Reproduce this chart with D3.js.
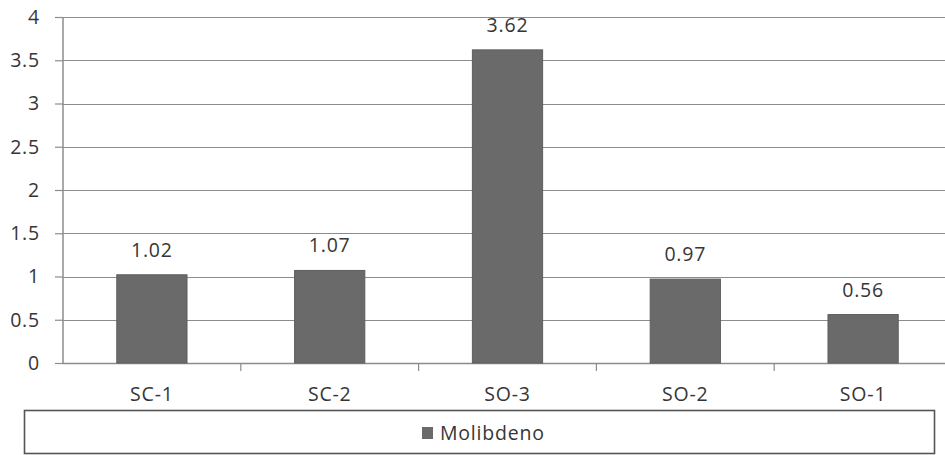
<!DOCTYPE html>
<html>
<head>
<meta charset="utf-8">
<script src="https://cdn.jsdelivr.net/npm/d3@7"></script>
<style>
  html, body { margin: 0; padding: 0; background: #fff; }
  svg { display: block; }
  text { font-family: "Open Sans", "DejaVu Sans", sans-serif; fill: #363636; letter-spacing: 0.8px; }
</style>
</head>
<body>
<svg id="chart" width="945" height="455"></svg>
<script>
// Molybdenum values per sample point
const categories = ["SC-1", "SC-2", "SO-3", "SO-2", "SO-1"];
const values = [1.02, 1.07, 3.62, 0.97, 0.56];
const valueLabels = ["1.02", "1.07", "3.62", "0.97", "0.56"];
const yTicks = [0, 0.5, 1, 1.5, 2, 2.5, 3, 3.5, 4];
const yTickLabels = ["0", "0.5", "1", "1.5", "2", "2.5", "3", "3.5", "4"];
const seriesName = "Molibdeno";

const svg = d3.select("#chart");
const plot = { left: 63, right: 952, top: 17, bottom: 363 };
const fontSize = "19.5px";

const x = d3.scaleBand()
  .domain(categories)
  .range([plot.left, plot.right])
  .paddingInner(0.605)
  .paddingOuter(0.3025);

const y = d3.scaleLinear().domain([0, 4]).range([plot.bottom, plot.top]);

const gridColor = "#8c8c8c";
const barColor = "#6a6a6a";

// horizontal gridlines
svg.append("g")
  .selectAll("line")
  .data(yTicks.filter(d => d > 0))
  .join("line")
  .attr("x1", plot.left)
  .attr("x2", 945)
  .attr("y1", d => Math.round(y(d)) + 0.5)
  .attr("y2", d => Math.round(y(d)) + 0.5)
  .attr("stroke", gridColor)
  .attr("stroke-width", 1.2);

// y axis
const yAxis = d3.axisLeft(y)
  .tickValues(yTicks)
  .tickFormat((d, i) => yTickLabels[i])
  .tickSize(8)
  .tickPadding(15);
const gy = svg.append("g")
  .attr("transform", `translate(${plot.left},0)`)
  .call(yAxis);
gy.select(".domain").attr("stroke", gridColor).attr("stroke-width", 1.5)
  .attr("d", `M0,${plot.top}V${plot.bottom}`);
gy.selectAll(".tick line").attr("stroke", gridColor).attr("stroke-width", 1.2);
gy.selectAll(".tick text")
  .style("font-size", fontSize)
  .attr("fill", "#363636");

// x axis baseline with tick marks at category boundaries
const step = x.step();
const boundaries = categories.map((c, i) => plot.left + step * (i + 1)).slice(0, -1);
svg.append("line")
  .attr("x1", plot.left).attr("x2", 945)
  .attr("y1", plot.bottom + 0.5).attr("y2", plot.bottom + 0.5)
  .attr("stroke", gridColor).attr("stroke-width", 1.5);
svg.append("g").selectAll("line")
  .data(boundaries)
  .join("line")
  .attr("x1", d => d).attr("x2", d => d)
  .attr("y1", plot.bottom).attr("y2", plot.bottom + 8)
  .attr("stroke", gridColor).attr("stroke-width", 1.2);

// category labels
svg.append("g").selectAll("text")
  .data(categories)
  .join("text")
  .attr("x", d => x(d) + x.bandwidth() / 2)
  .attr("y", 401)
  .attr("text-anchor", "middle")
  .style("font-size", fontSize)
  .text(d => d);

// bars
svg.append("g").selectAll("rect")
  .data(values)
  .join("rect")
  .attr("x", (d, i) => x(categories[i]))
  .attr("width", x.bandwidth())
  .attr("y", d => y(d))
  .attr("height", d => y(0) - y(d))
  .attr("fill", barColor)
  .attr("stroke", "#5e5e5e")
  .attr("stroke-width", 1);

// value labels
svg.append("g").selectAll("text")
  .data(values)
  .join("text")
  .attr("x", (d, i) => x(categories[i]) + x.bandwidth() / 2)
  .attr("y", d => y(d) - 18)
  .attr("text-anchor", "middle")
  .style("font-size", fontSize)
  .text((d, i) => valueLabels[i]);

// legend
const legend = svg.append("g");
legend.append("rect")
  .attr("x", 24.5).attr("y", 410.5)
  .attr("width", 910).attr("height", 43)
  .attr("fill", "#fff")
  .attr("stroke", "#555")
  .attr("stroke-width", 1.6);
legend.append("rect")
  .attr("x", 422).attr("y", 427)
  .attr("width", 11).attr("height", 12)
  .attr("fill", barColor);
legend.append("text")
  .attr("x", 440).attr("y", 440)
  .style("font-size", fontSize)
  .text(seriesName);
</script>
</body>
</html>
